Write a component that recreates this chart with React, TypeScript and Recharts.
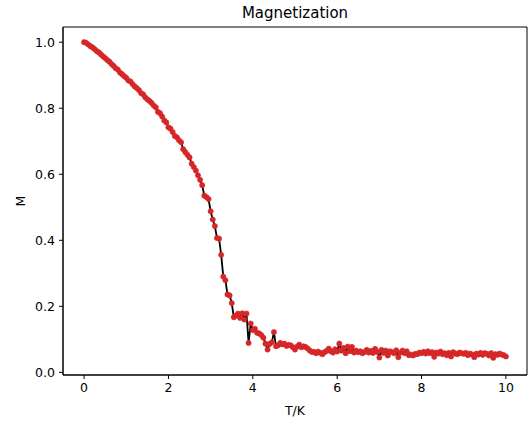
import { LineChart, Line, XAxis, YAxis, ReferenceArea } from 'recharts';

// temperature grid (T/K)
const temperature = [
  0.0, 0.05, 0.1, 0.15, 0.2, 0.25, 0.3, 0.35, 0.4, 0.45,
  0.5, 0.55, 0.6, 0.65, 0.7, 0.75, 0.8, 0.85, 0.9, 0.95,
  1.0, 1.05, 1.1, 1.15, 1.2, 1.25, 1.3, 1.35, 1.4, 1.45,
  1.5, 1.55, 1.6, 1.65, 1.7, 1.75, 1.8, 1.85, 1.9, 1.95,
  2.0, 2.05, 2.1, 2.15, 2.2, 2.25, 2.3, 2.35, 2.4, 2.45,
  2.5, 2.55, 2.6, 2.65, 2.7, 2.75, 2.8, 2.85, 2.9, 2.95,
  3.0, 3.05, 3.1, 3.15, 3.2, 3.25, 3.3, 3.35, 3.4, 3.45,
  3.5, 3.55, 3.6, 3.65, 3.7, 3.75, 3.8, 3.85, 3.9, 3.95,
  4.0, 4.05, 4.1, 4.15, 4.2, 4.25, 4.3, 4.35, 4.4, 4.45,
  4.5, 4.55, 4.6, 4.65, 4.7, 4.75, 4.8, 4.85, 4.9, 4.95,
  5.0, 5.05, 5.1, 5.15, 5.2, 5.25, 5.3, 5.35, 5.4, 5.45,
  5.5, 5.55, 5.6, 5.65, 5.7, 5.75, 5.8, 5.85, 5.9, 5.95,
  6.0, 6.05, 6.1, 6.15, 6.2, 6.25, 6.3, 6.35, 6.4, 6.45,
  6.5, 6.55, 6.6, 6.65, 6.7, 6.75, 6.8, 6.85, 6.9, 6.95,
  7.0, 7.05, 7.1, 7.15, 7.2, 7.25, 7.3, 7.35, 7.4, 7.45,
  7.5, 7.55, 7.6, 7.65, 7.7, 7.75, 7.8, 7.85, 7.9, 7.95,
  8.0, 8.05, 8.1, 8.15, 8.2, 8.25, 8.3, 8.35, 8.4, 8.45,
  8.5, 8.55, 8.6, 8.65, 8.7, 8.75, 8.8, 8.85, 8.9, 8.95,
  9.0, 9.05, 9.1, 9.15, 9.2, 9.25, 9.3, 9.35, 9.4, 9.45,
  9.5, 9.55, 9.6, 9.65, 9.7, 9.75, 9.8, 9.85, 9.9, 9.95,
  10.0,
];

// magnetization M at each temperature
const magnetization = [
  1.000, 0.998, 0.993, 0.988, 0.984, 0.979, 0.973, 0.969, 0.963, 0.957,
  0.952, 0.946, 0.941, 0.934, 0.928, 0.921, 0.917, 0.908, 0.903, 0.897,
  0.892, 0.884, 0.881, 0.873, 0.866, 0.861, 0.855, 0.846, 0.842, 0.833,
  0.827, 0.822, 0.816, 0.808, 0.803, 0.789, 0.785, 0.775, 0.763, 0.757,
  0.742, 0.738, 0.728, 0.716, 0.712, 0.703, 0.697, 0.676, 0.667, 0.659,
  0.651, 0.632, 0.622, 0.611, 0.597, 0.583, 0.567, 0.535, 0.531, 0.525,
  0.488, 0.463, 0.443, 0.407, 0.405, 0.356, 0.290, 0.279, 0.236, 0.233,
  0.210, 0.167, 0.172, 0.178, 0.165, 0.179, 0.160, 0.178, 0.089, 0.148,
  0.128, 0.132, 0.120, 0.118, 0.113, 0.105, 0.087, 0.069, 0.086, 0.091,
  0.122, 0.079, 0.082, 0.089, 0.085, 0.087, 0.080, 0.083, 0.082, 0.076,
  0.069, 0.078, 0.084, 0.076, 0.079, 0.077, 0.072, 0.066, 0.062, 0.062,
  0.058, 0.063, 0.059, 0.055, 0.061, 0.065, 0.072, 0.064, 0.060, 0.070,
  0.063, 0.087, 0.066, 0.074, 0.058, 0.078, 0.064, 0.077, 0.060, 0.066,
  0.061, 0.064, 0.058, 0.062, 0.068, 0.060, 0.065, 0.059, 0.071, 0.062,
  0.045, 0.068, 0.059, 0.066, 0.051, 0.064, 0.061, 0.058, 0.067, 0.046,
  0.060, 0.066, 0.058, 0.064, 0.052, 0.054, 0.051, 0.056, 0.055, 0.060,
  0.058, 0.062, 0.057, 0.064, 0.058, 0.061, 0.047, 0.060, 0.057, 0.063,
  0.055, 0.058, 0.052, 0.059, 0.048, 0.061, 0.057, 0.055, 0.060, 0.058,
  0.056, 0.059, 0.052, 0.057, 0.054, 0.046, 0.057, 0.054, 0.059, 0.053,
  0.058, 0.056, 0.051, 0.058, 0.044, 0.055, 0.053, 0.057, 0.054, 0.052,
  0.048,
];

const xTicks = [0, 2, 4, 6, 8, 10];
const yTicks = [0, 0.2, 0.4, 0.6, 0.8, 1.0];

const X_DOMAIN: [number, number] = [-0.5, 10.5];
const Y_DOMAIN: [number, number] = [-0.008, 1.046];

const FONT = '"DejaVu Sans", sans-serif';

export default function App() {
  const data = temperature.map((t, i) => ({ t, m: magnetization[i] }));

  return (
    <div style={{ position: 'absolute', left: 0, top: 0, width: 528, height: 425, background: '#fff', fontFamily: FONT }}>
      {/* title */}
      <div style={{ position: 'absolute', left: 63, width: 464, top: 4, textAlign: 'center', fontSize: 15, color: '#000' }}>
        Magnetization
      </div>
      <LineChart width={528} height={425} data={data} margin={{ top: 27, right: 1, bottom: 0, left: 0 }}>
        <XAxis
          dataKey="t"
          type="number"
          domain={X_DOMAIN}
          ticks={xTicks}
          allowDataOverflow
          height={50}
          tickSize={4}
          tickMargin={4}
          stroke="#000"
          tick={{ fill: '#000', fontSize: 12.5, fontFamily: FONT }}
          label={{ value: 'T/K', position: 'insideBottom', offset: 10, fill: '#000', fontSize: 12.5, fontFamily: FONT }}
        />
        <YAxis
          type="number"
          domain={Y_DOMAIN}
          ticks={yTicks}
          allowDataOverflow
          width={63}
          tickSize={4}
          tickMargin={4}
          stroke="#000"
          tickFormatter={(v: number) => v.toFixed(1)}
          tick={{ fill: '#000', fontSize: 12.5, fontFamily: FONT }}
          label={{
            content: () => (
              <text x={20} y={201} transform="rotate(-90 20 201)" textAnchor="middle" dominantBaseline="central" fill="#000" fontSize={12.5} fontFamily={FONT}>
                M
              </text>
            ),
          }}
        />
        {/* frame (top / right spines) */}
        <ReferenceArea x1={X_DOMAIN[0]} x2={X_DOMAIN[1]} y1={Y_DOMAIN[0]} y2={Y_DOMAIN[1]} fill="none" stroke="#000" strokeWidth={1} ifOverflow="visible" />
        <Line
          type="linear"
          dataKey="m"
          stroke="#000"
          strokeWidth={1.8}
          dot={{ r: 2.6, fill: '#d62728', stroke: '#d62728', strokeWidth: 0.6 }}
          isAnimationActive={false}
        />
      </LineChart>
    </div>
  );
}
